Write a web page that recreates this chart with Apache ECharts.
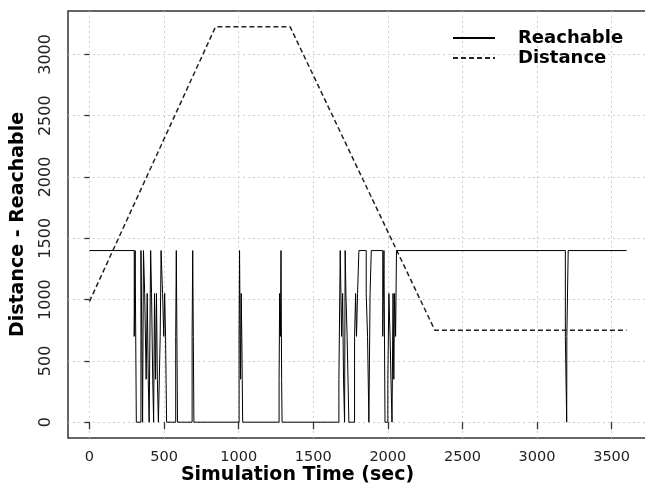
<!DOCTYPE html>
<html>
<head>
<meta charset="utf-8">
<title>Distance - Reachable</title>
<script src="https://cdn.jsdelivr.net/npm/echarts@6.0.0/dist/echarts.min.js"></script>
<style>
  html, body { margin: 0; padding: 0; background: #fff; }
  #chart { width: 645px; height: 485px; }
</style>
</head>
<body>
<div id="chart"></div>
<script>
// tick positions
const xTicks = [0, 500, 1000, 1500, 2000, 2500, 3000, 3500]
const yTicks = [0, 500, 1000, 1500, 2000, 2500, 3000]

// Reachable: value holds from each time until the next one
const reachTime = [
  0, 300, 306, 314, 345, 351, 356, 362, 370, 380, 387, 394, 400, 410, 416, 424, 430,
  436, 443, 449, 455, 462, 474, 480, 490, 498, 504, 510, 517,
  578, 582, 586, 590, 688, 692, 696, 700,
  1003, 1006, 1010, 1013, 1017, 1021, 1024, 1027,
  1271, 1275, 1280, 1284, 1288, 1291,
  1672, 1681, 1690, 1697, 1703, 1710, 1714, 1719, 1727, 1733, 1739,
  1777, 1784, 1790, 1797, 1806, 1855, 1864, 1873, 1881, 1889,
  1966, 1974, 1981, 2000, 2007, 2015, 2021, 2028, 2035, 2040, 2045, 2052, 2058,
  3190, 3199, 3200, 3209, 3600
]
const reachValue = [
  1400, 700, 1400, 0, 1400, 700, 0, 1400, 1050, 350, 1050, 350, 0, 1400, 1050, 350, 0,
  1050, 350, 1050, 350, 0, 700, 1400, 1050, 700, 1050, 700, 0,
  700, 1400, 700, 0, 700, 1400, 700, 0,
  700, 1400, 700, 350, 1050, 700, 350, 0,
  350, 1050, 700, 1400, 350, 0,
  350, 1400, 700, 1050, 350, 0, 1400, 1050, 700, 350, 0,
  700, 1050, 700, 1050, 1400, 1050, 700, 0, 1050, 1400,
  700, 1400, 0, 350, 1050, 700, 350, 0, 1050, 350, 1050, 700, 1400,
  700, 0, 700, 1400, 1400
]

// Distance between the nodes
const distTime = [0, 845, 1345, 2315, 3600]
const distValue = [985, 3225, 3225, 750, 750]

const chart = echarts.init(document.getElementById('chart'))

chart.setOption({
  animation: false,
  backgroundColor: '#fff',
  textStyle: { fontFamily: 'DejaVu Sans' },
  grid: {
    left: 68,
    top: 11,
    width: 580,
    height: 427,
    outerBoundsMode: 'none',
    containLabel: false,
    show: true,
    borderColor: '#333',
    borderWidth: 1.5
  },
  legend: {
    orient: 'vertical',
    left: 452,
    top: 28,
    padding: 0,
    itemWidth: 42,
    itemHeight: 14,
    itemGap: 0,
    itemStyle: { color: 'rgba(0,0,0,0)', borderWidth: 0 },
    textStyle: {
      fontFamily: 'DejaVu Sans',
      fontWeight: 'bold',
      fontSize: 18,
      lineHeight: 20,
      color: '#000',
      padding: [0, 0, 0, 18]
    },
    data: ['Reachable', 'Distance']
  },
  xAxis: {
    type: 'value',
    min: -144,
    max: 3744,
    axisLine: { show: false },
    axisTick: {
      length: 7,
      customValues: xTicks,
      lineStyle: { color: '#333', width: 1.3 }
    },
    axisLabel: {
      customValues: xTicks,
      formatter: v => String(v),
      margin: 12,
      fontFamily: 'DejaVu Sans',
      fontSize: 14.5,
      color: '#222'
    },
    splitLine: {
      show: true,
      lineStyle: { color: '#cfcfcf', type: [2, 3], width: 1 }
    },
    name: 'Simulation Time (sec)',
    nameLocation: 'middle',
    nameGap: 28,
    nameMoveOverlap: false,
    nameTextStyle: {
      fontFamily: 'DejaVu Sans',
      fontWeight: 'bold',
      fontSize: 19,
      color: '#000',
      padding: [0, 121, 0, 0]
    }
  },
  yAxis: {
    type: 'value',
    min: -129,
    max: 3354,
    axisLine: { show: false },
    axisTick: {
      length: 5,
      customValues: yTicks,
      lineStyle: { color: '#333', width: 1.3 }
    },
    axisLabel: {
      customValues: yTicks,
      formatter: v => String(v),
      rotate: 90,
      margin: 14,
      fontFamily: 'DejaVu Sans',
      fontSize: 16,
      color: '#222'
    },
    splitLine: {
      show: true,
      lineStyle: { color: '#cfcfcf', type: [2, 3], width: 1 }
    },
    name: 'Distance - Reachable',
    nameLocation: 'middle',
    nameGap: 40,
    nameMoveOverlap: false,
    nameTextStyle: {
      fontFamily: 'DejaVu Sans',
      fontWeight: 'bold',
      fontSize: 19,
      color: '#000'
    }
  },
  series: [
    {
      name: 'Reachable',
      type: 'line',
      step: 'end',
      symbol: 'none',
      color: '#000',
      lineStyle: { color: '#000', width: 1 },
      data: reachTime.map((t, i) => [t, reachValue[i]])
    },
    {
      name: 'Distance',
      type: 'line',
      symbol: 'none',
      color: '#222',
      lineStyle: { color: '#222', width: 1.5, type: [5, 3] },
      data: distTime.map((t, i) => [t, distValue[i]])
    }
  ]
})
</script>
</body>
</html>
